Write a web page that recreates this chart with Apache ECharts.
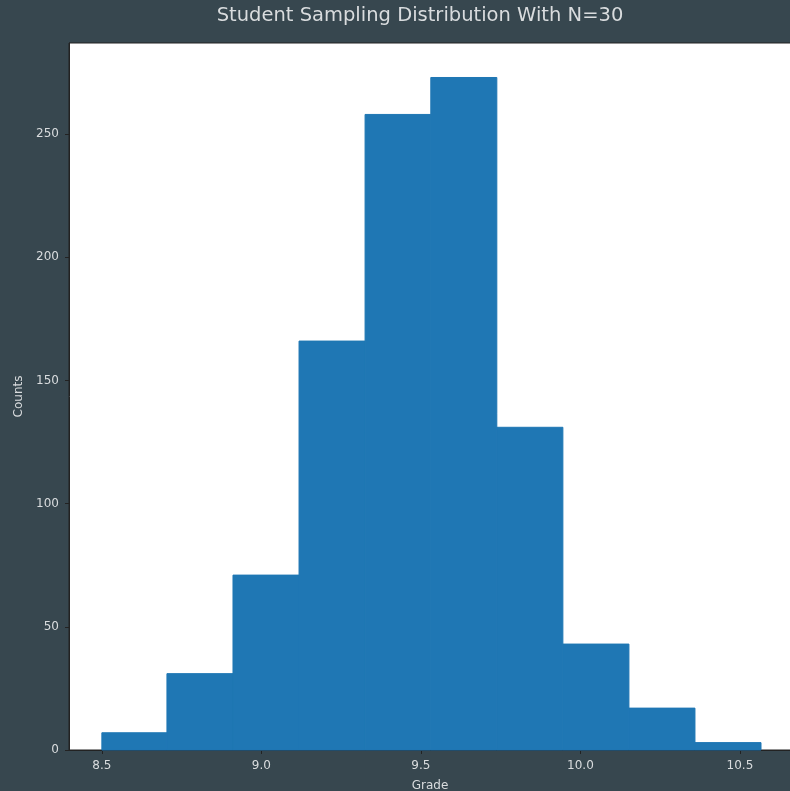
<!DOCTYPE html>
<html>
<head>
<meta charset="utf-8">
<script src="https://cdn.jsdelivr.net/npm/echarts@6/dist/echarts.min.js"></script>
<style>
  html, body { margin: 0; padding: 0; background: #37474f; }
  #chart { width: 790px; height: 791px; }
</style>
</head>
<body>
<div id="chart"></div>
<script>
// histogram bins (left/right edges) and counts
const binEdges = [8.5, 8.704, 8.911, 9.118, 9.325, 9.531, 9.738, 9.945, 10.152, 10.359, 10.566];
const counts = [7, 31, 71, 166, 258, 273, 131, 43, 17, 3];
const xTicks = [8.5, 9.0, 9.5, 10.0, 10.5];
const yTicks = [0, 50, 100, 150, 200, 250];

const textColor = '#d9dcde';
const spineColor = '#222';

const bins = counts.map((c, i) => [binEdges[i], binEdges[i + 1], c]);

const chart = echarts.init(document.getElementById('chart'));
chart.setOption({
  backgroundColor: '#37474f',
  animation: false,
  title: {
    text: 'Student Sampling Distribution With N=30',
    left: 415,
    textAlign: 'center',
    top: 1,
    textStyle: { color: textColor, fontFamily: 'DejaVu Sans', fontSize: 19.5, fontWeight: 'normal' }
  },
  grid: {
    left: 69, top: 43, right: -1, bottom: 41,
    outerBoundsMode: 'none',
    containLabel: false,
    show: true, backgroundColor: '#fff', borderColor: spineColor, borderWidth: 1
  },
  xAxis: {
    type: 'value',
    min: 8.397,
    max: 10.660,
    name: 'Grade',
    nameLocation: 'middle',
    nameGap: 30,
    nameTextStyle: { color: textColor, fontFamily: 'DejaVu Sans', fontSize: 12 },
    splitLine: { show: false },
    axisLine: { show: true, lineStyle: { color: spineColor, width: 1 } },
    axisTick: { show: true, length: 4, lineStyle: { color: spineColor }, customValues: xTicks },
    axisLabel: {
      color: textColor, fontFamily: 'DejaVu Sans', fontSize: 12, margin: 10,
      customValues: xTicks,
      formatter: v => v.toFixed(1)
    }
  },
  yAxis: {
    type: 'value',
    min: 0,
    max: 287,
    name: 'Counts',
    nameLocation: 'middle',
    nameGap: 38,
    nameTextStyle: { color: textColor, fontFamily: 'DejaVu Sans', fontSize: 12 },
    splitLine: { show: false },
    axisLine: { show: true, lineStyle: { color: spineColor, width: 1 } },
    axisTick: { show: true, length: 4, lineStyle: { color: spineColor }, customValues: yTicks },
    axisLabel: {
      color: textColor, fontFamily: 'DejaVu Sans', fontSize: 12, margin: 10,
      customValues: yTicks
    }
  },
  series: [{
    type: 'custom',
    data: bins,
    renderItem: function (params, api) {
      const p0 = api.coord([api.value(0), api.value(2)]);
      const p1 = api.coord([api.value(1), 0]);
      return {
        type: 'rect',
        shape: { x: p0[0], y: p0[1], width: p1[0] - p0[0], height: p1[1] - p0[1] },
        style: { fill: '#1f77b4', stroke: '#1f77b4', lineWidth: 1 }
      };
    },
    encode: { x: [0, 1], y: 2 }
  }]
});
</script>
</body>
</html>
